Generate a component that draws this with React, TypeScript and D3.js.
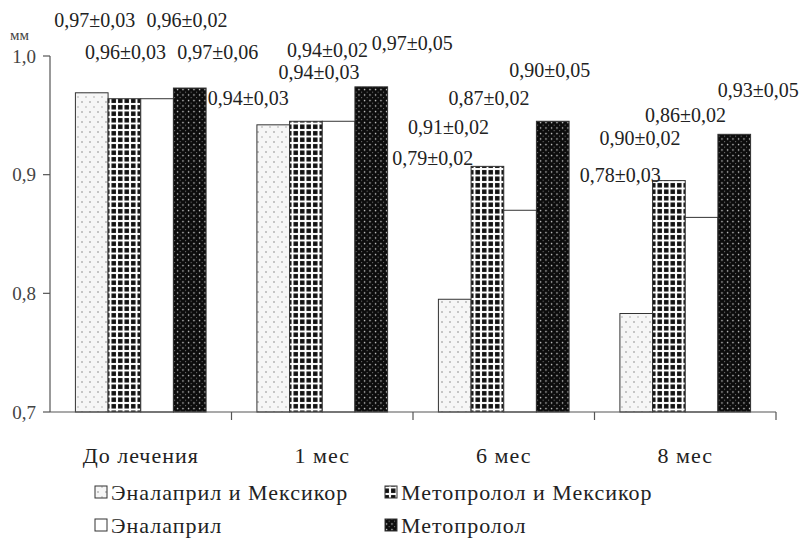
import React, { useRef, useEffect } from 'react';
import * as d3 from 'd3';

const categories = ['До лечения', '1 мес', '6 мес', '8 мес'];
const seriesNames = ['Эналаприл и Мексикор', 'Метопролол и Мексикор', 'Эналаприл', 'Метопролол'];

// bar heights as drawn, one array per series
const enalMex = [0.969, 0.942, 0.795, 0.783];
const metoMex = [0.964, 0.945, 0.907, 0.895];
const enal = [0.964, 0.945, 0.870, 0.864];
const meto = [0.973, 0.974, 0.945, 0.934];

// printed labels
const enalMexLabels = ['0,97±0,03', '0,94±0,03', '0,79±0,02', '0,78±0,03'];
const metoMexLabels = ['0,96±0,03', '0,94±0,03', '0,91±0,02', '0,90±0,02'];
const enalLabels = ['0,96±0,02', '0,94±0,02', '0,87±0,02', '0,86±0,02'];
const metoLabels = ['0,97±0,06', '0,97±0,05', '0,90±0,05', '0,93±0,05'];

const yTicks = [0.7, 0.8, 0.9, 1.0];

// label placement: [dx from bar centre, y of text centre]
const labelLayout = [
  [[3, 20], [1, 52], [30, 20], [28, 52]],
  [[-25, 98], [13, 72], [-11, 50], [41, 43]],
  [[-22, 158], [-39, 127], [-31, 98], [-3, 70]],
  [[-16, 175], [-29, 138], [-16, 115], [24, 90]],
];

const App: React.FC = () => {
  const width = 800;
  const height = 541;
  const svgRef = useRef<SVGSVGElement>(null);

  useEffect(() => {
    if (!svgRef.current) return;
    const svg = d3.select(svgRef.current);
    svg.selectAll('*').remove();

    const font = "'Times New Roman', 'Liberation Serif', 'DejaVu Serif', 'Noto Serif', serif";
    const ink = '#222';
    const left = 50, right = 776, top = 56, bottom = 412;

    const values = [enalMex, metoMex, enal, meto];
    const labels = [enalMexLabels, metoMexLabels, enalLabels, metoLabels];

    const defs = svg.append('defs');

    const pDots = defs.append('pattern').attr('id', 'pDots')
      .attr('patternUnits', 'userSpaceOnUse').attr('width', 8).attr('height', 10);
    pDots.append('rect').attr('width', 8).attr('height', 10).attr('fill', '#f6f6f6');
    pDots.append('circle').attr('cx', 2).attr('cy', 2).attr('r', 0.8).attr('fill', '#888');
    pDots.append('circle').attr('cx', 6).attr('cy', 7).attr('r', 0.8).attr('fill', '#aaa');

    const pGrid = defs.append('pattern').attr('id', 'pGrid')
      .attr('patternUnits', 'userSpaceOnUse').attr('width', 6.5).attr('height', 6.5);
    pGrid.append('rect').attr('width', 6.5).attr('height', 6.5).attr('fill', '#fff');
    pGrid.append('rect').attr('x', 1).attr('y', 1).attr('width', 4.5).attr('height', 4.5).attr('fill', '#111');

    const pBlack = defs.append('pattern').attr('id', 'pBlack')
      .attr('patternUnits', 'userSpaceOnUse').attr('width', 5.5).attr('height', 5.5);
    pBlack.append('rect').attr('width', 5.5).attr('height', 5.5).attr('fill', '#0c0c0c');
    pBlack.append('circle').attr('cx', 1.5).attr('cy', 1.5).attr('r', 0.75).attr('fill', '#ddd');
    pBlack.append('circle').attr('cx', 4.2).attr('cy', 4.2).attr('r', 0.55).attr('fill', '#999');

    const fills = ['url(#pDots)', 'url(#pGrid)', '#fff', 'url(#pBlack)'];

    const x0 = d3.scaleBand<string>().domain(categories).range([left, right])
      .paddingInner(0.28).paddingOuter(0.14);
    const x1 = d3.scaleBand<string>().domain(seriesNames).range([0, x0.bandwidth()]);
    const y = d3.scaleLinear().domain([0.7, 1.0]).range([bottom, top]);

    // bars
    categories.forEach((cat, ci) => {
      seriesNames.forEach((s, si) => {
        const bx = (x0(cat) as number) + (x1(s) as number);
        svg.append('rect')
          .attr('x', bx).attr('y', y(values[si][ci]))
          .attr('width', x1.bandwidth()).attr('height', bottom - y(values[si][ci]))
          .attr('fill', fills[si])
          .attr('stroke', '#333').attr('stroke-width', 1);
      });
    });

    // value labels
    categories.forEach((cat, ci) => {
      seriesNames.forEach((s, si) => {
        const cx = (x0(cat) as number) + (x1(s) as number) + x1.bandwidth() / 2;
        const [dx, ly] = labelLayout[ci][si];
        svg.append('text')
          .attr('x', cx + dx).attr('y', ly)
          .attr('dy', '0.35em')
          .attr('text-anchor', 'middle')
          .style('font-family', font).style('font-size', '20px')
          .attr('fill', ink)
          .text(labels[si][ci]);
      });
    });

    // y axis
    svg.append('line').attr('x1', left).attr('x2', left).attr('y1', top).attr('y2', bottom)
      .attr('stroke', '#555').attr('stroke-width', 1.2);
    yTicks.forEach(t => {
      svg.append('line').attr('x1', left - 7).attr('x2', left).attr('y1', y(t)).attr('y2', y(t))
        .attr('stroke', '#555').attr('stroke-width', 1.2);
      svg.append('text').attr('x', left - 14).attr('y', y(t)).attr('dy', '0.35em')
        .attr('text-anchor', 'end').style('font-family', font).style('font-size', '19px')
        .attr('fill', '#444').text(d3.format('.1f')(t).replace('.', ','));
    });
    svg.append('text').attr('x', 10).attr('y', 35).attr('dy', '0.35em')
      .style('font-family', font).style('font-size', '15px').attr('fill', '#444').text('мм');

    // x axis
    svg.append('line').attr('x1', left).attr('x2', right).attr('y1', bottom).attr('y2', bottom)
      .attr('stroke', '#555').attr('stroke-width', 1.2);
    const step = x0.step();
    d3.range(1, categories.length + 1).forEach(i => {
      const tx = left + i * step;
      svg.append('line').attr('x1', tx).attr('x2', tx).attr('y1', bottom).attr('y2', bottom + 8)
        .attr('stroke', '#555').attr('stroke-width', 1.2);
    });
    categories.forEach(cat => {
      svg.append('text')
        .attr('x', (x0(cat) as number) + x0.bandwidth() / 2).attr('y', 455).attr('dy', '0.35em')
        .attr('text-anchor', 'middle').style('font-family', font).style('font-size', '22px')
        .style('letter-spacing', '1px')
        .attr('fill', ink).text(cat);
    });

    // legend
    const legendPos = [[95, 492], [385, 492], [95, 525], [385, 525]];
    seriesNames.forEach((s, si) => {
      const [lx, ly] = legendPos[si];
      svg.append('rect').attr('x', lx).attr('y', ly - 6).attr('width', 12).attr('height', 12)
        .attr('fill', fills[si]).attr('stroke', '#333').attr('stroke-width', 1);
      svg.append('text').attr('x', lx + 16).attr('y', ly).attr('dy', '0.35em')
        .style('font-family', font).style('font-size', '22px').style('letter-spacing', '1px')
        .attr('fill', ink).text(s);
    });
  }, []);

  return (
    <svg ref={svgRef} width={width} height={height}
      style={{ position: 'absolute', left: 0, top: 0, background: '#fff' }} />
  );
};

export default App;
